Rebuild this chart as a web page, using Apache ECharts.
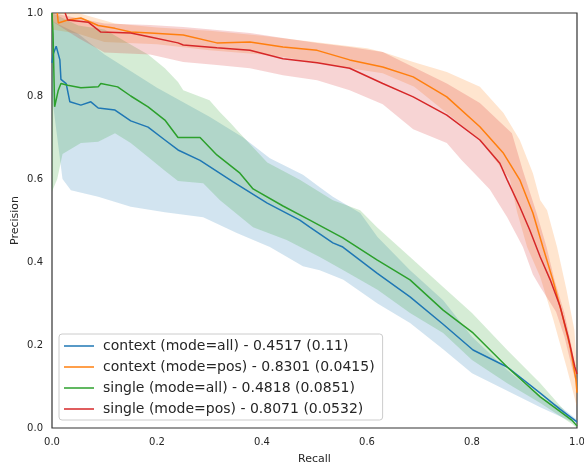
<!DOCTYPE html>
<html>
<head>
<meta charset="utf-8">
<script src="https://cdn.jsdelivr.net/npm/echarts@6/dist/echarts.min.js"></script>
<style>
  html, body { margin: 0; padding: 0; background: #fff; }
  #chart { width: 584px; height: 468px; }
</style>
</head>
<body>
<div id="chart"></div>
<script>
// series names as shown in the legend
const names = [
  'context (mode=all) - 0.4517 (0.11)',
  'context (mode=pos) - 0.8301 (0.0415)',
  'single (mode=all) - 0.4818 (0.0851)',
  'single (mode=pos) - 0.8071 (0.0532)'
]
const colors = ['#1f77b4', '#ff7f0e', '#2ca02c', '#d62728']
const tickLabels = ['0.0', '0.2', '0.4', '0.6', '0.8', '1.0']

// mean curves, [recall, precision]
const contextAll = [[0,0.88],[0.002,0.9],[0.008,0.92],[0.015,0.887],[0.017,0.84],[0.027,0.83],[0.034,0.786],[0.055,0.778],[0.074,0.786],[0.088,0.771],[0.12,0.766],[0.15,0.74],[0.183,0.725],[0.215,0.694],[0.24,0.67],[0.282,0.645],[0.345,0.593],[0.41,0.542],[0.472,0.501],[0.491,0.484],[0.535,0.446],[0.554,0.436],[0.619,0.373],[0.682,0.316],[0.745,0.25],[0.802,0.188],[0.867,0.147],[0.93,0.084],[0.968,0.045],[1.0,0.015]]
const contextPos = [[0.01,1.0],[0.012,0.976],[0.03,0.983],[0.055,0.988],[0.088,0.97],[0.12,0.963],[0.15,0.954],[0.187,0.952],[0.25,0.947],[0.314,0.928],[0.377,0.93],[0.44,0.918],[0.505,0.91],[0.567,0.887],[0.63,0.87],[0.688,0.846],[0.752,0.798],[0.815,0.726],[0.86,0.662],[0.891,0.598],[0.916,0.518],[0.935,0.436],[0.954,0.357],[0.971,0.277],[0.987,0.195],[0.998,0.116],[1.0,0.085]]
const singleAll = [[0,1.0],[0.002,0.95],[0.005,0.774],[0.012,0.814],[0.017,0.83],[0.03,0.826],[0.055,0.82],[0.088,0.822],[0.093,0.83],[0.125,0.822],[0.15,0.8],[0.183,0.774],[0.215,0.742],[0.24,0.7],[0.282,0.7],[0.314,0.658],[0.358,0.614],[0.383,0.576],[0.44,0.535],[0.491,0.501],[0.554,0.458],[0.619,0.405],[0.682,0.357],[0.745,0.284],[0.802,0.229],[0.867,0.147],[0.93,0.075],[0.99,0.019],[1.0,0.005]]
const singlePos = [[0.025,1.0],[0.03,0.983],[0.069,0.978],[0.093,0.954],[0.15,0.952],[0.187,0.942],[0.24,0.928],[0.25,0.923],[0.314,0.916],[0.377,0.91],[0.44,0.89],[0.505,0.88],[0.567,0.867],[0.63,0.83],[0.688,0.798],[0.752,0.754],[0.815,0.694],[0.853,0.638],[0.867,0.598],[0.891,0.533],[0.91,0.477],[0.93,0.412],[0.949,0.357],[0.968,0.292],[0.983,0.22],[0.996,0.147],[1.0,0.13]]

// std bands, upper and lower edges
const contextAllHi = [[0,0.98],[0.05,0.95],[0.1,0.9],[0.2,0.82],[0.3,0.75],[0.364,0.7],[0.415,0.65],[0.478,0.61],[0.51,0.58],[0.535,0.557],[0.587,0.518],[0.62,0.46],[0.682,0.38],[0.745,0.308],[0.8,0.22],[0.867,0.14],[0.93,0.075],[0.97,0.05],[1.0,0.02]]
const contextAllLo = [[0,0.8],[0.01,0.7],[0.02,0.6],[0.036,0.573],[0.088,0.557],[0.15,0.533],[0.215,0.52],[0.288,0.508],[0.352,0.47],[0.415,0.436],[0.478,0.39],[0.51,0.38],[0.555,0.357],[0.62,0.3],[0.682,0.253],[0.745,0.19],[0.8,0.132],[0.867,0.09],[0.93,0.05],[0.99,0.015],[1.0,0.01]]
const contextPosHi = [[0,1.0],[0.05,1.0],[0.12,0.975],[0.2,0.965],[0.3,0.957],[0.4,0.945],[0.5,0.93],[0.6,0.915],[0.63,0.906],[0.688,0.882],[0.752,0.858],[0.815,0.822],[0.86,0.759],[0.891,0.694],[0.916,0.614],[0.93,0.549],[0.943,0.525],[0.962,0.436],[0.98,0.333],[0.995,0.236],[1.0,0.14]]
const contextPosLo = [[0,0.96],[0.05,0.95],[0.1,0.93],[0.2,0.925],[0.3,0.91],[0.4,0.9],[0.44,0.894],[0.567,0.867],[0.63,0.855],[0.69,0.822],[0.752,0.759],[0.815,0.694],[0.872,0.6],[0.886,0.52],[0.905,0.436],[0.93,0.364],[0.955,0.26],[0.98,0.147],[0.995,0.075],[1.0,0.05]]
const singleAllHi = [[0,1.0],[0.05,0.97],[0.1,0.96],[0.158,0.918],[0.183,0.9],[0.215,0.867],[0.24,0.834],[0.25,0.814],[0.3,0.79],[0.32,0.761],[0.34,0.735],[0.352,0.718],[0.41,0.64],[0.472,0.598],[0.535,0.549],[0.587,0.525],[0.619,0.484],[0.682,0.412],[0.745,0.34],[0.8,0.277],[0.867,0.188],[0.93,0.108],[0.98,0.036],[1.0,0.0]]
const singleAllLo = [[0,0.57],[0.01,0.6],[0.02,0.66],[0.055,0.687],[0.088,0.69],[0.12,0.71],[0.15,0.687],[0.183,0.653],[0.215,0.62],[0.24,0.595],[0.288,0.59],[0.32,0.549],[0.383,0.484],[0.447,0.453],[0.51,0.412],[0.555,0.38],[0.62,0.333],[0.682,0.277],[0.745,0.229],[0.8,0.164],[0.867,0.108],[0.93,0.06],[0.99,0.01],[1.0,0.0]]
const singlePosHi = [[0,1.0],[0.1,0.975],[0.187,0.971],[0.25,0.966],[0.314,0.959],[0.377,0.952],[0.44,0.94],[0.505,0.928],[0.567,0.918],[0.63,0.906],[0.688,0.87],[0.752,0.83],[0.815,0.783],[0.876,0.71],[0.897,0.62],[0.923,0.518],[0.942,0.436],[0.957,0.357],[0.976,0.277],[0.99,0.195],[1.0,0.116]]
const singlePosLo = [[0,0.98],[0.05,0.94],[0.1,0.905],[0.187,0.9],[0.25,0.882],[0.314,0.875],[0.377,0.867],[0.44,0.85],[0.505,0.838],[0.567,0.814],[0.63,0.78],[0.688,0.72],[0.752,0.687],[0.78,0.646],[0.815,0.6],[0.834,0.575],[0.867,0.508],[0.897,0.436],[0.916,0.37],[0.93,0.34],[0.96,0.28],[0.976,0.22],[0.99,0.147],[1.0,0.1]]

const curves = [contextAll, contextPos, singleAll, singlePos]
const bands = [
  [contextAllHi, contextAllLo],
  [contextPosHi, contextPosLo],
  [singleAllHi, singleAllLo],
  [singlePosHi, singlePosLo]
]

const font = 'DejaVu Sans'
const chart = echarts.init(document.getElementById('chart'), null, { renderer: 'canvas' })

function bandSeries(hi, lo, color) {
  return {
    type: 'custom',
    silent: true,
    z: 1,
    data: [[0, 0]],
    renderItem: (params, api) => {
      const pts = hi.map(p => api.coord(p))
        .concat(lo.slice().reverse().map(p => api.coord(p)))
      return {
        type: 'polygon',
        shape: { points: pts },
        style: { fill: color, opacity: 0.2 }
      }
    }
  }
}

const series = []
bands.forEach((b, i) => series.push(bandSeries(b[0], b[1], colors[i])))
curves.forEach((c, i) => series.push({
  type: 'line',
  name: names[i],
  data: c,
  symbol: 'none',
  showSymbol: false,
  z: 2 + i,
  lineStyle: { color: colors[i], width: 1.5 },
  itemStyle: { color: colors[i] }
}))

chart.setOption({
  animation: false,
  backgroundColor: '#fff',
  grid: {
    left: 52, right: 7, top: 13, bottom: 40,
    outerBoundsMode: 'none',
    show: true, borderColor: '#333', borderWidth: 1.2,
    backgroundColor: 'transparent'
  },
  xAxis: {
    type: 'value', min: 0, max: 1, interval: 0.2,
    name: 'Recall', nameLocation: 'middle', nameGap: 26,
    nameMoveOverlap: false,
    nameTextStyle: { fontFamily: font, fontSize: 11, color: '#262626' },
    axisLine: { show: false },
    axisTick: { show: false },
    splitLine: { show: false },
    axisLabel: {
      fontFamily: font, fontSize: 10, color: '#262626', margin: 9,
      formatter: v => tickLabels[Math.round(v / 0.2)]
    }
  },
  yAxis: {
    type: 'value', min: 0, max: 1, interval: 0.2,
    name: 'Precision', nameLocation: 'middle', nameGap: 31,
    nameMoveOverlap: false,
    nameTextStyle: { fontFamily: font, fontSize: 11, color: '#262626' },
    axisLine: { show: false },
    axisTick: { show: false },
    splitLine: { show: false },
    axisLabel: {
      fontFamily: font, fontSize: 10, color: '#262626', margin: 9,
      formatter: v => tickLabels[Math.round(v / 0.2)]
    }
  },
  legend: {
    data: names,
    icon: 'rect',
    orient: 'vertical',
    left: 59, top: 334,
    padding: [5, 8, 4, 5],
    itemWidth: 30, itemHeight: 1.5, itemGap: 7,
    backgroundColor: 'rgba(255,255,255,0.8)',
    borderColor: '#cccccc', borderWidth: 1, borderRadius: 3,
    textStyle: { fontFamily: font, fontSize: 14, lineHeight: 14, color: '#262626', padding: [0, 0, 0, 4] }
  },
  series: series
})
</script>
</body>
</html>
